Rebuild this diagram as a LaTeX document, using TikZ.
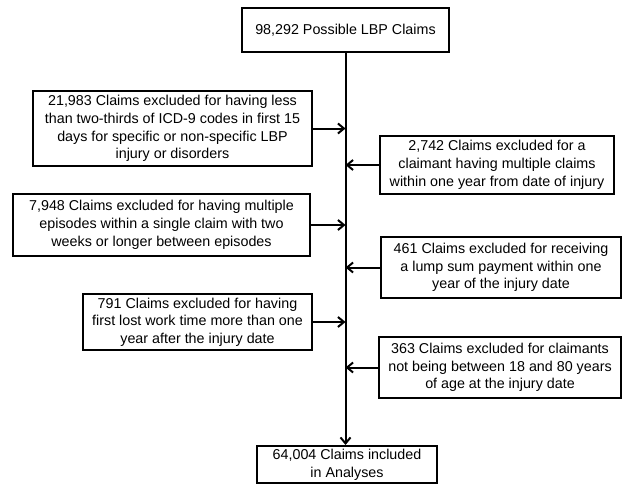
\documentclass[tikz,border=0pt]{standalone}
\usepackage{fontspec}
\setmainfont{Liberation Sans}
\usetikzlibrary{arrows.meta}
\begin{document}
\begin{tikzpicture}[x=1pt,y=-1pt,
  box/.style={draw=black, line width=2pt, rectangle, inner sep=0pt, align=center,
    font=\fontsize{14.3}{17.7}\selectfont},
  conn/.style={line width=2pt, -{Straight Barb[length=6pt,width=10pt]}}]
\useasboundingbox (0,0) rectangle (623,484);
\node[box, minimum width=207pt, minimum height=44pt] (top) at (345.5,30) {98,292 Possible LBP Claims};
\node[box, minimum width=279pt, minimum height=75pt] (a) at (172.5,128.5) {21,983 Claims excluded for having less\\than two-thirds of ICD-9 codes in first 15\\days for specific or non-specific LBP\\injury or disorders};
\node[box, minimum width=234pt, minimum height=58pt] (b) at (497,165) {2,742 Claims excluded for a\\claimant having multiple claims\\within one year from date of injury};
\node[box, minimum width=297pt, minimum height=62pt] (c) at (161.5,225) {7,948 Claims excluded for having multiple\\episodes within a single claim with two\\weeks or longer between episodes};
\node[box, minimum width=240pt, minimum height=61pt] (d) at (501,267.5) {461 Claims excluded for receiving\\a lump sum payment within one\\year of the injury date};
\node[box, minimum width=229pt, minimum height=56pt] (e) at (197.5,322) {791 Claims excluded for having\\first lost work time more than one\\year after the injury date};
\node[box, minimum width=242pt, minimum height=61pt] (f) at (500,367.5) {363 Claims excluded for claimants\\not being between 18 and 80 years\\of age at the injury date};
\node[box, minimum width=180pt, minimum height=37pt] (bot) at (347,464.5) {64,004 Claims included\\in Analyses};
\draw[conn] (top.south) -- (top.south |- bot.north);
\draw[conn] (a.east) -- (a.east -| top.south);
\draw[conn] (b.west) -- (b.west -| top.south);
\draw[conn] (c.east) -- (c.east -| top.south);
\draw[conn] (d.west) -- (d.west -| top.south);
\draw[conn] (e.east) -- (e.east -| top.south);
\draw[conn] (f.west) -- (f.west -| top.south);
\end{tikzpicture}
\end{document}
